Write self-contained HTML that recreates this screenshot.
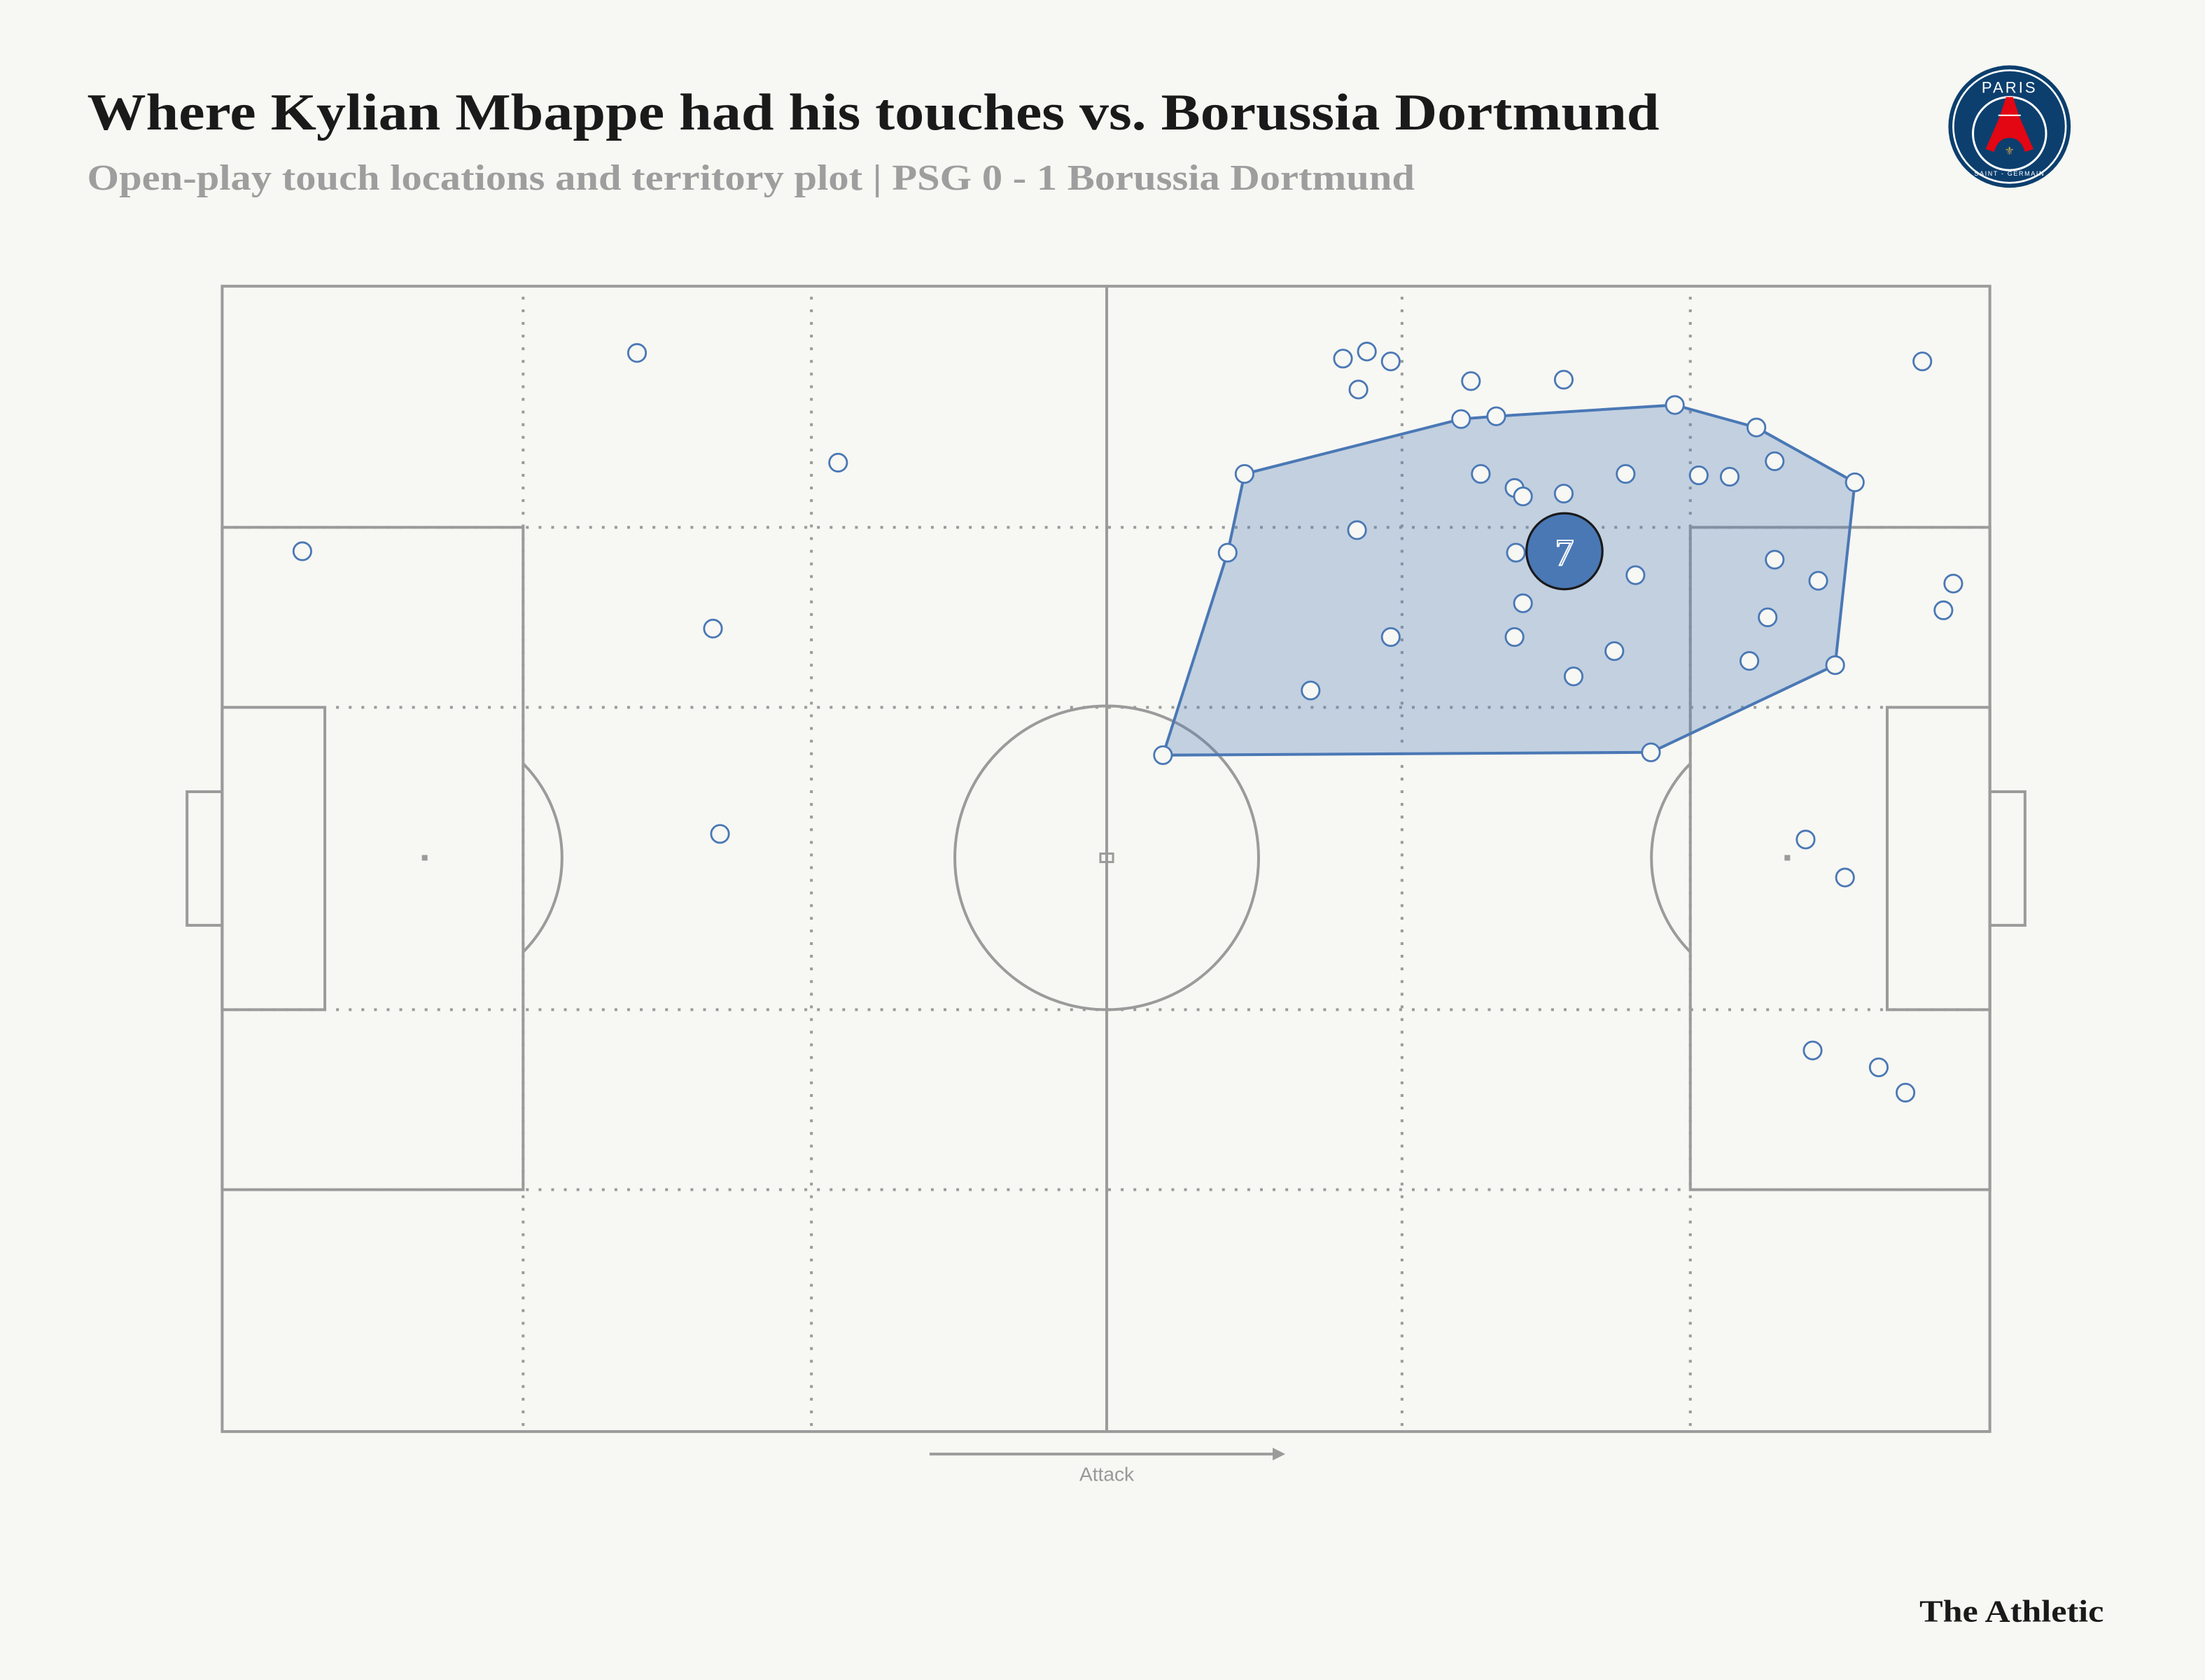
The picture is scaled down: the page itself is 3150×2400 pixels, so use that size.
<!DOCTYPE html>
<html><head><meta charset="utf-8">
<style>
html,body{margin:0;padding:0;background:#f7f7f3;}
svg{display:block;}
</style></head>
<body>
<svg width="3150" height="2400" viewBox="0 0 1568 1194.67" xmlns="http://www.w3.org/2000/svg">
<rect x="0" y="0" width="1568" height="1195" fill="#f7f7f3"/>
<text x="62" y="92" font-family="Liberation Serif, serif" font-weight="bold" font-size="37" fill="#1a1a1a" textLength="1118" lengthAdjust="spacingAndGlyphs">Where Kylian Mbappe had his touches vs. Borussia Dortmund</text>
<text x="62" y="135" font-family="Liberation Serif, serif" font-weight="bold" font-size="26" fill="#9e9e9e" textLength="944" lengthAdjust="spacingAndGlyphs">Open-play touch locations and territory plot |  PSG 0 - 1 Borussia Dortmund</text>

<!-- PSG logo -->
<g>
<circle cx="1429" cy="90" r="43.5" fill="#0c3f6e"/>
<circle cx="1429" cy="90" r="40" fill="none" stroke="#fff" stroke-width="1.3"/>
<circle cx="1429" cy="95" r="26" fill="none" stroke="#fff" stroke-width="1.5"/>
<path d="M1426.5 69 L1431.5 69 L1436 83 L1446 106 L1440 108 Q1437 98 1429 98 Q1421 98 1418 108 L1412 106 L1422 83 Z" fill="#e30613"/>
<line x1="1421" y1="82" x2="1437" y2="82" stroke="#fff" stroke-width="1"/>
<text x="1429" y="110" font-size="8" fill="#c9a24a" text-anchor="middle" font-family="DejaVu Sans, sans-serif">⚜</text>
<text x="1429" y="66" font-family="Liberation Sans, sans-serif" font-size="11" fill="#fff" text-anchor="middle" letter-spacing="1.5">PARIS</text>
<text x="1429" y="125" font-family="Liberation Sans, sans-serif" font-size="4.5" fill="#fff" text-anchor="middle" letter-spacing="0.8">SAINT - GERMAIN</text>
</g>

<!-- pitch -->
<g fill="none" stroke="#9b9b9b">
<g stroke-width="2" stroke-dasharray="2 7">
<line x1="372" y1="211" x2="372" y2="1018"/>
<line x1="577" y1="211" x2="577" y2="1018"/>
<line x1="997" y1="211" x2="997" y2="1018"/>
<line x1="1202" y1="211" x2="1202" y2="1018"/>
<line x1="158" y1="375" x2="1415" y2="375"/>
<line x1="158" y1="503" x2="1415" y2="503"/>
<line x1="158" y1="718" x2="1415" y2="718"/>
<line x1="158" y1="846" x2="1415" y2="846"/>
</g>
<g stroke-width="2">
<rect x="158" y="203.5" width="1257" height="814.5" fill="none"/>
<line x1="787" y1="203" x2="787" y2="1018"/>
<circle cx="787" cy="610" r="108"/>
<rect x="782.5" y="607" width="9" height="6" stroke-width="1.5"/>
<rect x="158" y="375" width="214" height="471"/>
<rect x="158" y="503" width="73" height="215"/>
<rect x="133" y="563" width="25" height="95"/>
<rect x="1202" y="375" width="213" height="471"/>
<rect x="1342" y="503" width="73" height="215"/>
<rect x="1415" y="563" width="25" height="95"/>
<path d="M372 543 A95 95 0 0 1 372 677"/>
<path d="M1202 543 A95 95 0 0 0 1202 677"/>
</g>
</g>
<rect x="300" y="608" width="4" height="4" fill="#9b9b9b"/>
<rect x="1269" y="608" width="4" height="4" fill="#9b9b9b"/>

<!-- territory -->
<polygon points="885,337 1039,298 1064,296 1191,288 1249,304 1319,343 1305,473 1174,535 827,537 873,393" fill="#4a78b5" fill-opacity="0.3" stroke="#4a78b5" stroke-width="2"/>

<g fill="#f7f7f3" stroke="#4a78b5" stroke-width="1.4">
<circle cx="885" cy="337" r="6.3"/><circle cx="1039" cy="298" r="6.3"/><circle cx="1064" cy="296" r="6.3"/>
<circle cx="1191" cy="288" r="6.3"/><circle cx="1249" cy="304" r="6.3"/><circle cx="1319" cy="343" r="6.3"/>
<circle cx="1305" cy="473" r="6.3"/><circle cx="1174" cy="535" r="6.3"/><circle cx="827" cy="537" r="6.3"/>
<circle cx="873" cy="393" r="6.3"/>
<circle cx="453" cy="251" r="6.3"/><circle cx="596" cy="329" r="6.3"/><circle cx="215" cy="392" r="6.3"/>
<circle cx="507" cy="447" r="6.3"/><circle cx="512" cy="593" r="6.3"/>
<circle cx="955" cy="255" r="6.3"/><circle cx="972" cy="250" r="6.3"/><circle cx="989" cy="257" r="6.3"/>
<circle cx="966" cy="277" r="6.3"/><circle cx="1046" cy="271" r="6.3"/><circle cx="1112" cy="270" r="6.3"/>
<circle cx="1367" cy="257" r="6.3"/><circle cx="1053" cy="337" r="6.3"/><circle cx="1077" cy="347" r="6.3"/>
<circle cx="1083" cy="353" r="6.3"/><circle cx="1112" cy="351" r="6.3"/><circle cx="1156" cy="337" r="6.3"/>
<circle cx="1208" cy="338" r="6.3"/><circle cx="1230" cy="339" r="6.3"/><circle cx="1262" cy="328" r="6.3"/>
<circle cx="965" cy="377" r="6.3"/><circle cx="1078" cy="393" r="6.3"/><circle cx="1163" cy="409" r="6.3"/>
<circle cx="1262" cy="398" r="6.3"/><circle cx="1293" cy="413" r="6.3"/><circle cx="1389" cy="415" r="6.3"/>
<circle cx="1382" cy="434" r="6.3"/><circle cx="1083" cy="429" r="6.3"/><circle cx="1257" cy="439" r="6.3"/>
<circle cx="989" cy="453" r="6.3"/><circle cx="1077" cy="453" r="6.3"/><circle cx="1148" cy="463" r="6.3"/>
<circle cx="1244" cy="470" r="6.3"/><circle cx="1119" cy="481" r="6.3"/><circle cx="932" cy="491" r="6.3"/>
<circle cx="1284" cy="597" r="6.3"/><circle cx="1312" cy="624" r="6.3"/><circle cx="1289" cy="747" r="6.3"/>
<circle cx="1336" cy="759" r="6.3"/><circle cx="1355" cy="777" r="6.3"/>
</g>
<circle cx="1112.5" cy="392" r="27" fill="#4a78b5" stroke="#1a1a1a" stroke-width="1.6"/>
<text x="1112.5" y="402" font-family="Liberation Serif, serif" font-size="27" fill="none" stroke="#fff" stroke-width="1" text-anchor="middle">7</text>

<!-- attack arrow -->
<line x1="661" y1="1034" x2="906" y2="1034" stroke="#9b9b9b" stroke-width="2"/>
<polygon points="905,1029.5 914,1034 905,1038.5" fill="#9b9b9b"/>
<text x="787" y="1053" font-family="Liberation Sans, sans-serif" font-size="14" fill="#999" text-anchor="middle">Attack</text>

<text x="1496" y="1153" font-family="Liberation Serif, serif" font-weight="bold" font-size="22" fill="#1a1a1a" text-anchor="end" textLength="131" lengthAdjust="spacingAndGlyphs">The Athletic</text>
</svg>
</body></html>
